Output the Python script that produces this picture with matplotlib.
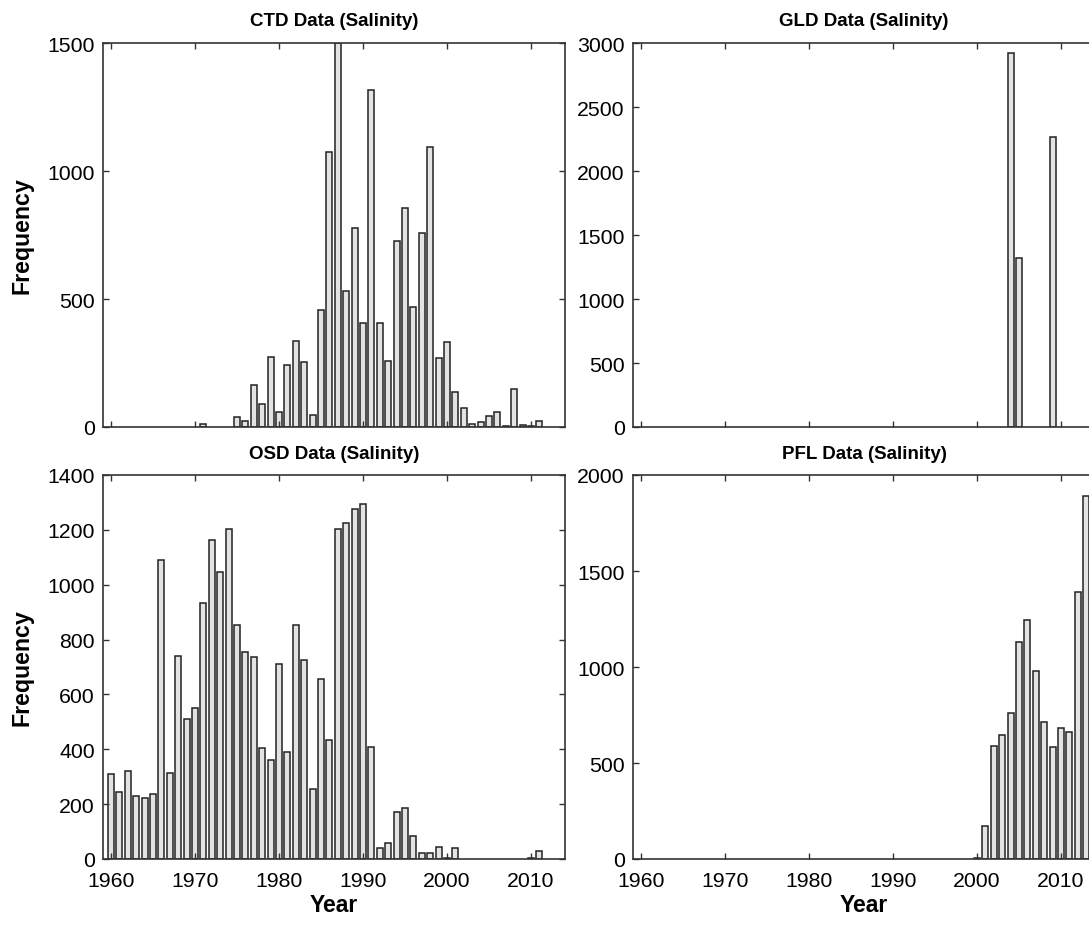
import numpy as np
import matplotlib
matplotlib.use("Agg")
import matplotlib.pyplot as plt

plt.rcParams['font.family'] = ['Liberation Sans', 'DejaVu Sans']

# --- data (counts per year) ---
ctd_years = np.arange(1971, 2012)
ctd_counts = [12, 0, 0, 0, 40, 25, 164, 90, 272, 57,
              242, 335, 253, 47, 457, 1075, 1500, 532, 777, 405,
              1316, 406, 257, 728, 855, 470, 758, 1092, 268, 331,
              135, 74, 12, 18, 44, 60, 3, 148, 8, 3,
              25]

gld_years = [2004, 2005, 2009]
gld_counts = [2922, 1318, 2268]

osd_years = np.arange(1960, 2012)
osd_counts = [310, 243, 322, 231, 221, 237, 1090, 313, 741, 510,
              551, 933, 1163, 1047, 1202, 852, 755, 735, 403, 362,
              710, 389, 854, 727, 255, 656, 433, 1202, 1224, 1275,
              1296, 407, 39, 57, 170, 186, 85, 21, 21, 45,
              5, 40, 0, 0, 0, 0, 0, 0, 0, 0,
              5, 30]

pfl_years = np.arange(2000, 2014)
pfl_counts = [5, 173, 587, 646, 759, 1132, 1245, 977, 712, 585,
              684, 663, 1389, 1889]

panels = [
    ("CTD Data (Salinity)", ctd_years, ctd_counts, 1500, [0, 500, 1000, 1500]),
    ("GLD Data (Salinity)", gld_years, gld_counts, 3000, [0, 500, 1000, 1500, 2000, 2500, 3000]),
    ("OSD Data (Salinity)", osd_years, osd_counts, 1400, [0, 200, 400, 600, 800, 1000, 1200, 1400]),
    ("PFL Data (Salinity)", pfl_years, pfl_counts, 2000, [0, 500, 1000, 1500, 2000]),
]
year_ticks = [1960, 1970, 1980, 1990, 2000, 2010]

W, H = 1089, 929
fig = plt.figure(figsize=(W / 100, H / 100), dpi=100)

# axes boxes in pixels (left, top, right, bottom)
boxes = [
    (103, 44, 565, 428),
    (633, 44, 1095, 428),
    (103, 476, 565, 860),
    (633, 476, 1095, 860),
]

for i, ((title, yrs, cnts, ymax, yt), (l, t, r, b)) in enumerate(zip(panels, boxes)):
    ax = fig.add_axes([l / W, 1 - b / H, (r - l) / W, (b - t) / H])
    yrs = np.asarray(yrs)
    cnts = np.asarray(cnts)
    keep = cnts > 0  # empty years draw nothing
    ax.bar(yrs[keep], cnts[keep], width=0.72, color='#e3e3e3',
           edgecolor='#222222', linewidth=1.1)
    ax.set_xlim(1959.05, 2014.05)
    ax.set_ylim(0, ymax)
    ax.set_xticks(year_ticks)
    ax.set_yticks(yt)
    ax.tick_params(direction='in', top=True, right=True, length=4, width=1,
                   labelsize=15.3, color='#333333', pad=6)
    if i < 2:
        ax.set_xticklabels([])
    else:
        ax.tick_params(axis='x', pad=9)
        ax.set_xlabel("Year", fontsize=16.5, fontweight='bold', labelpad=2)
    if i % 2 == 0:
        ax.set_ylabel("Frequency", fontsize=16.7, fontweight='bold', labelpad=10)
    for sp in ax.spines.values():
        sp.set_color('#333333')
        sp.set_linewidth(1.2)
    ax.set_title(title, fontsize=13.5, fontweight='bold', pad=13 if i < 2 else 12)

fig.savefig("out.png", dpi=100)
